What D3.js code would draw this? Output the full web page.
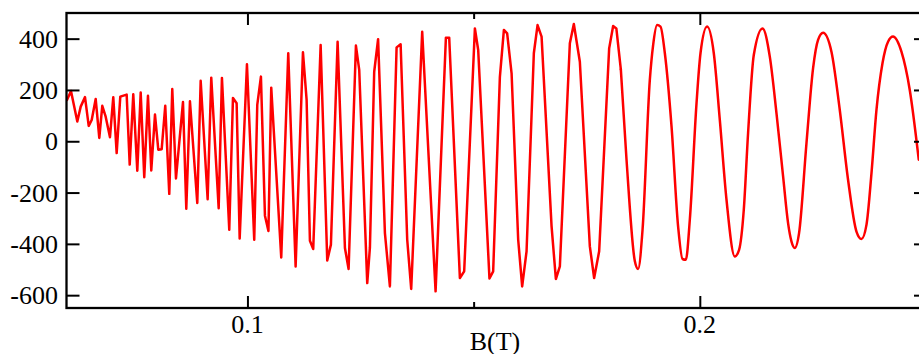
<!DOCTYPE html>
<html>
<head>
<meta charset="utf-8">
<script src="https://cdn.jsdelivr.net/npm/d3@7"></script>
<style>
  html, body { margin: 0; padding: 0; background: #fff; }
  svg { display: block; }
  text { font-family: "Liberation Serif", "DejaVu Serif", serif; fill: #000; }
</style>
</head>
<body>
<svg id="chart" width="919" height="354"></svg>
<script>
// ---- data ----
const fieldB = [
  0.06011,0.06099,0.06239,0.06314,0.06409,0.06491,0.06557,0.06645,0.06725,0.06791,
  0.06866,0.06961,0.07034,0.07109,0.07189,0.07330,0.07397,0.07476,0.07565,0.07640,
  0.07719,0.07801,0.07874,0.07956,0.08029,0.08104,0.08183,0.08272,0.08338,0.08420,
  0.08575,0.08648,0.08729,0.08891,0.08966,0.09120,0.09200,0.09364,0.09436,0.09598,
  0.09680,0.09761,0.09828,0.09989,0.10150,0.10217,0.10298,0.10387,0.10464,0.10526,
  0.10747,0.10902,0.11065,0.11227,0.11308,0.11381,0.11454,0.11618,0.11764,0.11845,
  0.11993,0.12155,0.12236,0.12398,0.12471,0.12648,0.12707,0.12802,0.12888,0.13039,
  0.13149,0.13297,0.13386,0.13532,0.13620,0.13863,0.14159,0.14387,0.14460,0.14696,
  0.14791,0.15028,0.15101,0.15350,0.15432,0.15580,0.15669,0.15741,0.15839,0.15985,
  0.16073,0.16170,0.16331,0.16413,0.16502,0.16723,0.16818,0.16906,0.17127,0.17215,
  0.17348,0.17569,0.17664,0.17775,0.17996,0.18084,0.18155,0.18254,0.18380,0.18564,
  0.18636,0.18734,0.18895,0.18968,0.19056,0.19131,0.19227,0.19375,0.19520,0.19618,
  0.19691,0.19779,0.19927,0.20015,0.20161,0.20309,0.20442,0.20590,0.20773,0.20868,
  0.20972,0.21067,0.21193,0.21386,0.21547,0.21695,0.21841,0.21951,0.22027,0.22099,
  0.22194,0.22358,0.22504,0.22614,0.22725,0.22910,0.23094,0.23277,0.23463,0.23573,
  0.23684,0.23795,0.23905,0.24038,0.24161,0.24272,0.24457,0.24641,0.24840
];
const signal = [
  161,196,77,135,172,60,83,165,13,138,
  96,16,172,-46,174,182,-91,183,-115,190,
  -140,177,-114,104,-33,-31,138,-205,204,-145,
  153,-263,156,-241,236,-226,248,-261,247,-345,
  169,148,-379,300,-384,142,252,-290,-350,209,
  -453,343,-488,347,161,-388,-420,375,-465,-403,
  388,-416,-498,373,278,-553,-415,271,398,-358,
  -566,366,378,-384,-576,427,-585,404,404,-533,
  -507,440,356,-535,-507,250,434,421,265,-384,
  -566,-429,343,453,408,-332,-537,-488,382,457,
  310,-410,-533,-429,362,449,440,280,-72,-468,
  -498,-345,239,375,453,447,343,57,-332,-459,
  -462,-306,148,343,447,343,83,-228,-449,-423,
  -267,32,336,440,330,109,-137,-319,-391,-416,
  -358,-7,285,395,423,349,122,-150,-352,-381,
  -326,-124,122,304,388,408,349,200,-72
];
const smoothFrom = 0.182;   // field above which the trace is densely sampled (smooth)
const xMajorTicks = [0.1, 0.2];
const xMinorTicks = [0.15];
const yTicks = [-600, -400, -200, 0, 200, 400];
const xLabel = "B(T)";

// ---- layout ----
const svg = d3.select("#chart");
const L = 66.5, R = 926, T = 13, B = 308;
const x = d3.scaleLinear().domain([0.06, 0.25]).range([L, R]);
const y = d3.scaleLinear().domain([-650, 500]).range([B, T]);

svg.append("defs").append("clipPath").attr("id", "plotclip")
  .append("rect").attr("x", L).attr("y", T).attr("width", R - L).attr("height", B - T);

// data line: sparse low-field part as straight segments, dense high-field part smoothed
const pts = fieldB.map((b, i) => [b, signal[i]]);
const splitIdx = pts.findIndex(p => p[0] >= smoothFrom);
const lineGen = d3.line().x(d => x(d[0])).y(d => y(d[1]));
const parts = [
  { data: pts.slice(0, splitIdx + 1), curve: d3.curveLinear },
  { data: pts.slice(splitIdx), curve: d3.curveMonotoneX }
];
svg.append("g").attr("clip-path", "url(#plotclip)")
  .selectAll("path").data(parts).join("path")
  .attr("fill", "none")
  .attr("stroke", "#ff0000")
  .attr("stroke-width", 2.5)
  .attr("stroke-linejoin", "round")
  .attr("stroke-linecap", "round")
  .attr("d", p => lineGen.curve(p.curve)(p.data));

// axes (ticks inward)
const fmtX = d3.format(".1f");
const gBottom = svg.append("g").attr("transform", `translate(0,${B})`)
  .call(d3.axisBottom(x).tickValues(xMajorTicks).tickSize(-12).tickFormat(""));
const gBottomMinor = svg.append("g").attr("transform", `translate(0,${B})`)
  .call(d3.axisBottom(x).tickValues(xMinorTicks).tickSize(-6).tickFormat(""));
const gTop = svg.append("g").attr("transform", `translate(0,${T})`)
  .call(d3.axisTop(x).tickValues(xMajorTicks).tickSize(-12).tickFormat(""));
const gTopMinor = svg.append("g").attr("transform", `translate(0,${T})`)
  .call(d3.axisTop(x).tickValues(xMinorTicks).tickSize(-6).tickFormat(""));
const gLeft = svg.append("g").attr("transform", `translate(${L},0)`)
  .call(d3.axisLeft(y).tickValues(yTicks).tickSize(-13).tickFormat(""));
const gRight = svg.append("g").attr("transform", `translate(${R},0)`)
  .call(d3.axisRight(y).tickValues(yTicks).tickSize(-12).tickFormat(""));

[gBottom, gBottomMinor, gTop, gTopMinor, gLeft, gRight].forEach(g => {
  g.select(".domain").remove();
  g.selectAll(".tick line").attr("stroke", "#000").attr("stroke-width", 2);
});

// frame
svg.append("rect")
  .attr("x", L).attr("y", T).attr("width", R - L).attr("height", B - T)
  .attr("fill", "none").attr("stroke", "#000").attr("stroke-width", 2.3);

// tick labels
svg.append("g").selectAll("text").data(xMajorTicks).join("text")
  .attr("x", d => x(d)).attr("y", 333)
  .attr("text-anchor", "middle").attr("font-size", 26)
  .text(d => fmtX(d));
svg.append("g").selectAll("text").data(yTicks).join("text")
  .attr("x", 58).attr("y", d => y(d)).attr("dy", "0.35em")
  .attr("text-anchor", "end").attr("font-size", 26)
  .text(d => String(d));

// axis title
svg.append("text")
  .attr("x", 495).attr("y", 349.5)
  .attr("text-anchor", "middle").attr("font-size", 26)
  .text(xLabel);
</script>
</body>
</html>
